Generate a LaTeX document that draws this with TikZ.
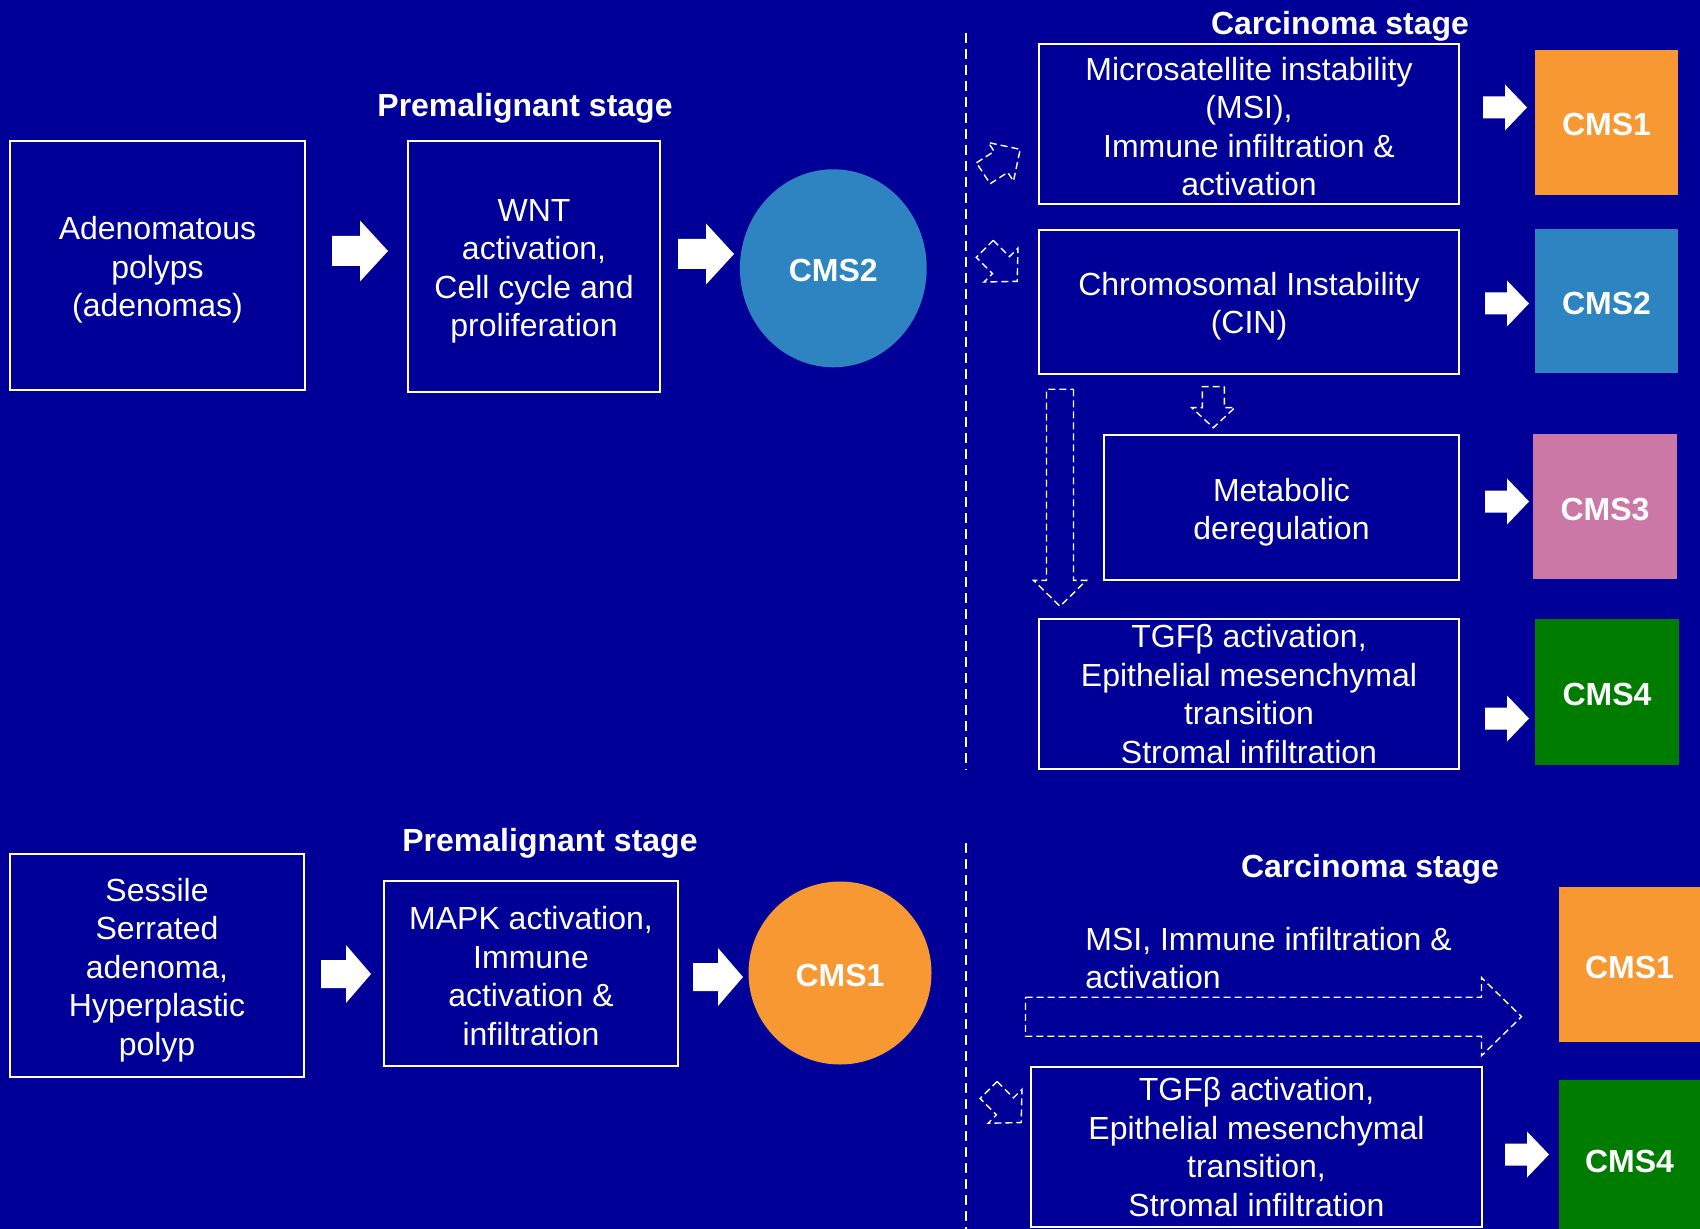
\documentclass[tikz,border=0pt]{standalone}
\usepackage{fontspec}
\setmainfont{Liberation Sans}
\usepackage{tikz}
\usetikzlibrary{shapes.geometric,positioning}
\definecolor{bgblue}{RGB}{0,0,153}
\definecolor{cmsorange}{RGB}{247,152,50}
\definecolor{cmsblue}{RGB}{46,132,192}
\definecolor{cmspink}{RGB}{204,120,166}
\definecolor{cmsgreen}{RGB}{0,125,0}
\newcommand{\topstrut}[1]{\rule{0pt}{#1}}
\tikzset{
    x=0.5pt, y=-0.5pt,
    txt/.style={font=\fontsize{16}{19.25}\selectfont},
    stagebox/.style={draw=white, line width=0.8pt, text=white, align=center, inner sep=0pt, txt},
    cmsfont/.style={text=white, text height=13.5pt, text depth=0pt, font=\bfseries\fontsize{16}{19}\selectfont},
    cmsbox/.style={fill=#1, inner sep=0pt, cmsfont},
    stagetitle/.style={text=white, font=\bfseries\fontsize{16}{19}\selectfont},
    divider/.style={white, line width=0.7pt, dash pattern=on 5pt off 3pt},
    blk len/.store in=\blklen, blk len=56,
    blk head/.store in=\blkhead, blk head=28,
    blk headwd/.store in=\blkheadwd, blk headwd=61,
    blk shaft/.store in=\blkshaft, blk shaft=30,
    blockarrow/.pic={
        \path[pic actions] (0,-\blkshaft/2) -- (\blklen-\blkhead,-\blkshaft/2) -- (\blklen-\blkhead,-\blkheadwd/2)
            -- (\blklen,0) -- (\blklen-\blkhead,\blkheadwd/2) -- (\blklen-\blkhead,\blkshaft/2) -- (0,\blkshaft/2) -- cycle;
    },
    bigarrow/.style={fill=white, blk len=56, blk head=28, blk headwd=61, blk shaft=30},
    smallarrow/.style={fill=white, blk len=44, blk head=22, blk headwd=46, blk shaft=22},
    dasharrow/.style={draw=white, line width=0.7pt, dash pattern=on 3.5pt off 2pt},
}

\begin{document}
\begin{tikzpicture}
    \path[use as bounding box, fill=bgblue] (0,0) rectangle (1700,1229);

    % upper pathway
    \node[stagetitle] (premalA) at (525,108) {Premalignant stage};
    \node[stagebox, minimum width=147.5pt, minimum height=124.5pt] (adenoma) at (157.5,265.5) {\topstrut{16pt}Adenomatous\\polyps\\(adenomas)};
    \node[stagebox, minimum width=126pt, minimum height=125.5pt] (wnt) at (534,266.5) {\topstrut{16pt}WNT\\activation,\\Cell cycle and\\proliferation};
    \node[ellipse, fill=cmsblue, minimum width=93.4pt, minimum height=99pt, inner sep=0pt, cmsfont] (circA) at (833.3,268.3) {CMS2};
    \pic[bigarrow] at (332,251) {blockarrow};
    \pic[bigarrow] at (678,254) {blockarrow};

    \draw[divider] (966,33) -- (966,770);
    \node[stagetitle] (carcA) at (1340,26) {Carcinoma stage};

    \node[stagebox, minimum width=210pt, minimum height=80pt] (msi) at (1249,124) {\topstrut{14pt}Microsatellite instability\\(MSI),\\Immune infiltration \&\\activation};
    \node[stagebox, minimum width=210pt, minimum height=72pt] (cin) at (1249,302) {\topstrut{16pt}Chromosomal Instability\\(CIN)};
    \node[stagebox, minimum width=177.5pt, minimum height=72.5pt] (metab) at (1281.5,507.5) {\topstrut{16.5pt}Metabolic\\deregulation};
    \node[stagebox, minimum width=210pt, minimum height=75pt] (tgfA) at (1249,694) {TGFβ activation,\\Epithelial mesenchymal\\transition\\Stromal infiltration};

    \node[cmsbox=cmsorange, minimum width=71.5pt, minimum height=72.5pt] (cmsA) at (1606.5,122.5) {CMS1};
    \node[cmsbox=cmsblue, minimum width=71.5pt, minimum height=72pt] (cmsB) at (1606.5,301) {CMS2};
    \node[cmsbox=cmspink, minimum width=72pt, minimum height=72.5pt] (cmsC) at (1605,506.5) {CMS3};
    \node[cmsbox=cmsgreen, minimum width=72pt, minimum height=73pt] (cmsD) at (1607,692) {CMS4};

    \pic[smallarrow] at (1483,107.5) {blockarrow};
    \pic[smallarrow] at (1485,303.5) {blockarrow};
    \pic[smallarrow] at (1485,501.5) {blockarrow};
    \pic[smallarrow] at (1485,718.5) {blockarrow};

    \pic[dasharrow, rotate=33, blk len=44, blk head=23, blk headwd=46, blk shaft=25] at (983.3,173.3) {blockarrow};
    \pic[dasharrow, rotate=-45, blk len=46, blk head=23, blk headwd=48, blk shaft=24] at (984.7,248.8) {blockarrow};
    \pic[dasharrow, rotate=-90, blk len=41, blk head=20, blk headwd=43, blk shaft=22] at (1213.3,386.7) {blockarrow};
    \pic[dasharrow, rotate=-90, blk len=217, blk head=26, blk headwd=53, blk shaft=27] at (1060,389.3) {blockarrow};

    % lower pathway
    \node[stagetitle] (premalB) at (550,843) {Premalignant stage};
    \node[stagebox, minimum width=147pt, minimum height=111.5pt] (sessile) at (157,965.5) {\topstrut{16pt}Sessile\\Serrated\\adenoma,\\Hyperplastic\\polyp};
    \node[stagebox, minimum width=147pt, minimum height=92.5pt] (mapk) at (531,973.5) {\topstrut{14pt}MAPK activation,\\Immune\\activation \&\\infiltration};
    \node[circle, fill=cmsorange, minimum size=91.5pt, inner sep=0pt, cmsfont] (circB) at (840,973) {CMS1};
    \pic[bigarrow, blk len=50, blk head=25, blk headwd=58, blk shaft=28] at (321,974) {blockarrow};
    \pic[bigarrow, blk len=50, blk head=25, blk headwd=58, blk shaft=28] at (693,977) {blockarrow};

    \draw[divider] (966,843) -- (966,1229);
    \node[stagetitle] (carcB) at (1370,869) {Carcinoma stage};

    \node[text=white, txt, align=left, anchor=west, inner sep=0pt] (msiB) at (1085,958) {MSI, Immune infiltration \&\\activation};
    \pic[dasharrow, blk len=496, blk head=40, blk headwd=78, blk shaft=39] at (1025.5,1016.7) {blockarrow};
    \pic[dasharrow, rotate=-45, blk len=46, blk head=23, blk headwd=48, blk shaft=24] at (988.7,1090) {blockarrow};

    \node[stagebox, minimum width=225.5pt, minimum height=80pt] (tgfB) at (1256.5,1147) {TGFβ activation,\\Epithelial mesenchymal\\transition,\\Stromal infiltration};
    \node[cmsbox=cmsorange, minimum width=70.5pt, minimum height=77.5pt] (cmsE) at (1629.5,964.5) {CMS1};
    \node[cmsbox=cmsgreen, minimum width=70.5pt, minimum height=78.5pt] (cmsF) at (1629.5,1158.5) {CMS4};
    \pic[smallarrow] at (1505,1154.5) {blockarrow};
\end{tikzpicture}
\end{document}
